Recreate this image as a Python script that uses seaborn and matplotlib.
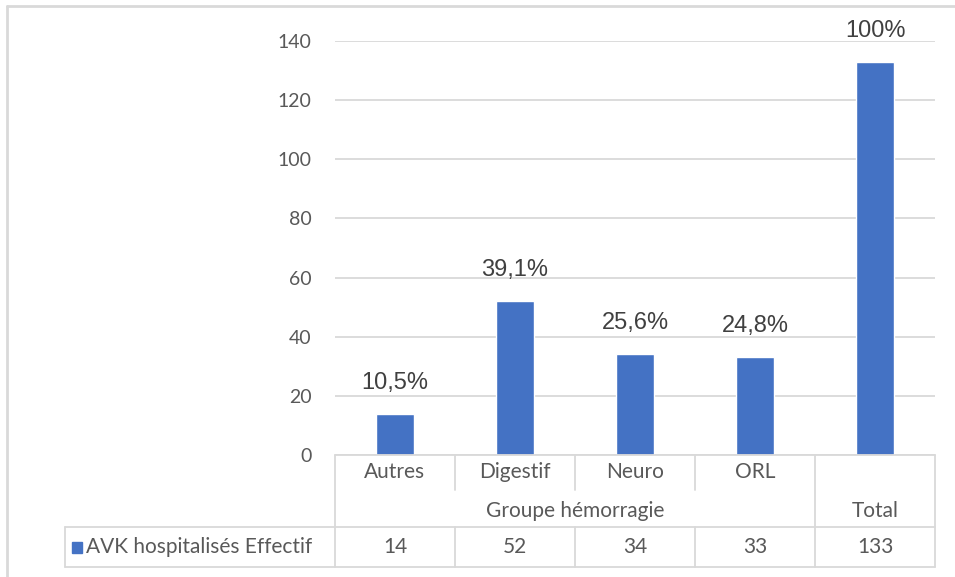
import matplotlib
matplotlib.use('Agg')
import matplotlib.pyplot as plt
import matplotlib.transforms as mtransforms
from matplotlib.patches import Rectangle
import seaborn as sns
import pandas as pd

# chart data
categories = ['Autres', 'Digestif', 'Neuro', 'ORL', 'Total']
counts = [14, 52, 34, 33, 133]
pct_labels = ['10,5%', '39,1%', '25,6%', '24,8%', '100%']
group_label = 'Groupe hémorragie'
series_name = 'AVK hospitalisés Effectif'
yticks = [0, 20, 40, 60, 80, 100, 120, 140]

df = pd.DataFrame({'cat': categories, 'n': counts})

sns.set_theme(style='white')
plt.rcParams['font.family'] = ['Lato', 'DejaVu Sans']

W, H = 955, 577
fig = plt.figure(figsize=(W / 100, H / 100), dpi=100)
ax = fig.add_axes([335 / W, (H - 455) / H, 600 / W, 414 / H])

bar_color = '#4472C4'
grid_color = '#D9D9D9'
text_color = '#595959'

sns.barplot(data=df, x='cat', y='n', color=bar_color, width=0.32, saturation=1, ax=ax)
ax.set_xlim(-0.5, len(categories) - 0.5)
ax.set_ylim(0, 140)
ax.set_yticks(yticks)
ax.set_yticklabels([str(t) for t in yticks], fontsize=14, color=text_color)
ax.tick_params(axis='y', length=0, pad=17)
ax.set_xticks([])
ax.set_xlabel('')
ax.set_ylabel('')
for s in ax.spines.values():
    s.set_visible(False)
ax.yaxis.grid(True, color=grid_color, linewidth=1.3)
ax.set_axisbelow(True)

# percentage labels above bars
for i, (v, lab) in enumerate(zip(counts, pct_labels)):
    ax.annotate(lab, (i, v), xytext=(0, 18), textcoords='offset points',
                ha='center', va='baseline', fontsize=17, color='#404040',
                family=['Liberation Sans', 'DejaVu Sans'])

# data table below the axis
tr = mtransforms.blended_transform_factory(ax.transData, ax.transAxes)
r1, r2, r3 = -0.0845, -0.174, -0.2705
left = -2.75
right = len(categories) - 0.5
lw = 1.3
line_kw = dict(color=grid_color, linewidth=lw, transform=tr, clip_on=False)

ax.plot([-0.5, right], [0, 0], **line_kw)
ax.plot([left, right], [r2, r2], **line_kw)
ax.plot([left, right], [r3, r3], **line_kw)
ax.plot([-0.5, -0.5], [0, r3], **line_kw)
ax.plot([right, right], [0, r3], **line_kw)
ax.plot([left, left], [r2, r3], **line_kw)
for b in [0.5, 1.5, 2.5]:
    ax.plot([b, b], [0, r1], **line_kw)
    ax.plot([b, b], [r2, r3], **line_kw)
ax.plot([3.5, 3.5], [0, r3], **line_kw)

tkw = dict(transform=tr, ha='center', va='center', fontsize=15, color=text_color)
for i, c in enumerate(categories[:-1]):
    ax.text(i, (0 + r1) / 2, c, **tkw)
ax.text(1.5, (r1 + r2) / 2 - 0.005, group_label, **tkw)
ax.text(4, (r1 + r2) / 2 - 0.005, categories[-1], **tkw)
for i, v in enumerate(counts):
    ax.text(i, (r2 + r3) / 2, str(v), **tkw)

# legend key in the table
fig.patches.append(Rectangle((72 / W, (H - 553) / H), 10 / W, 11 / H,
                             transform=fig.transFigure, color=bar_color))
fig.text(86 / W, (H - 547) / H, series_name, ha='left', va='center',
         fontsize=15, color=text_color)

# outer chart border (top and left visible)
fig.add_artist(plt.Line2D([7 / W, 1], [1 - 6 / H, 1 - 6 / H],
                          transform=fig.transFigure, color=grid_color, linewidth=2))
fig.add_artist(plt.Line2D([7 / W, 7 / W], [0, 1 - 6 / H],
                          transform=fig.transFigure, color=grid_color, linewidth=2))

fig.savefig('out.png', dpi=100, facecolor='white')
